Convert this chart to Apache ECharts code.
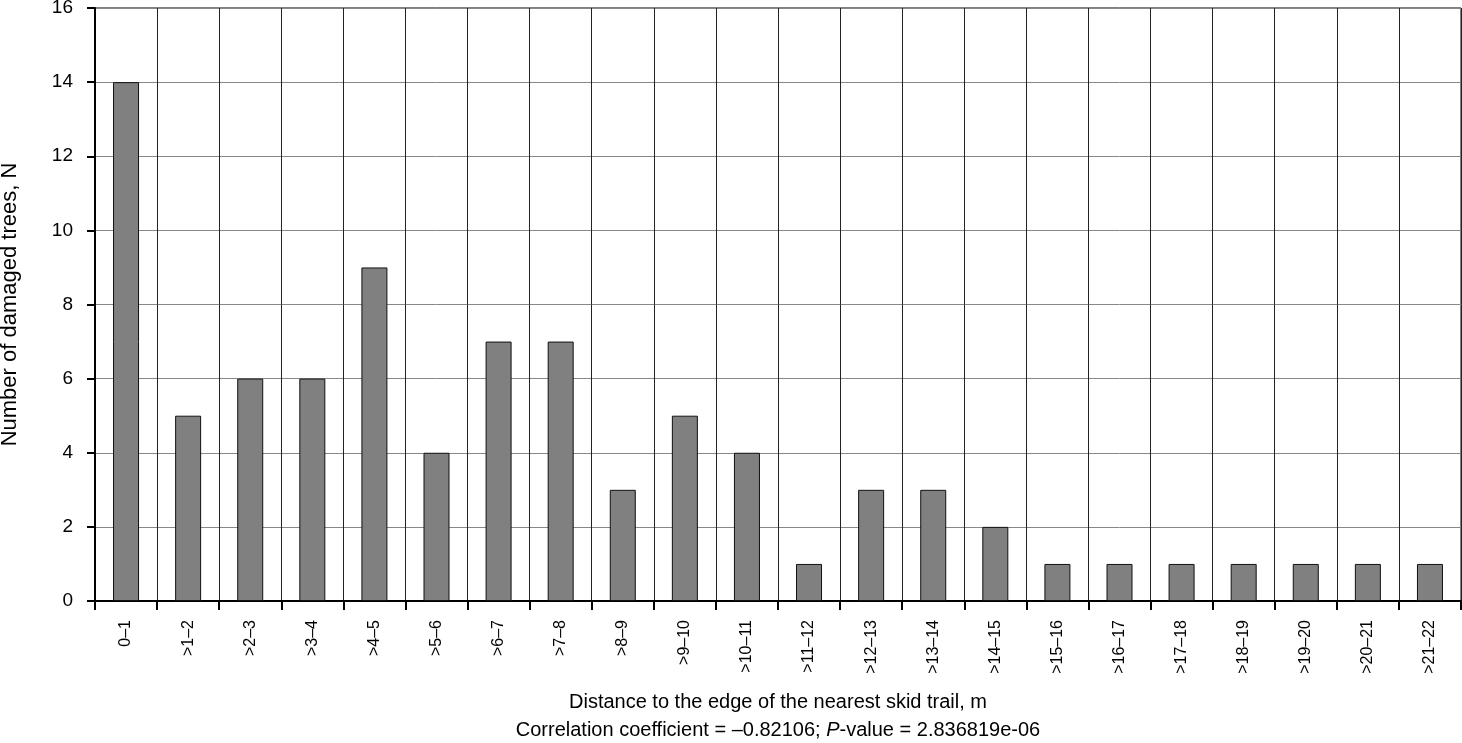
<!DOCTYPE html>
<html>
<head>
<meta charset="utf-8">
<script src="https://cdn.jsdelivr.net/npm/echarts@6/dist/echarts.min.js"></script>
<style>
html,body{margin:0;padding:0;background:#fff;}
#chart{width:1462px;height:743px;}
</style>
</head>
<body>
<div id="chart"></div>
<script>
const categories = ['0–1','>1–2','>2–3','>3–4','>4–5','>5–6','>6–7','>7–8','>8–9','>9–10','>10–11','>11–12','>12–13','>13–14','>14–15','>15–16','>16–17','>17–18','>18–19','>19–20','>20–21','>21–22'];
const damagedTrees = [14,5,6,6,9,4,7,7,3,5,4,1,3,3,2,1,1,1,1,1,1,1];
const yTicks = {min:0, max:16, interval:2};
const xTitle = 'Distance to the edge of the nearest skid trail, m';
const statLinePre = 'Correlation coefficient = –0.82106; ';
const statLineP = 'P';
const statLinePost = '-value = 2.836819e-06';

const FONT = '"Liberation Sans", Arial, sans-serif';
const chart = echarts.init(document.getElementById('chart'), null, {renderer:'canvas'});
chart.setOption({
  animation:false,
  backgroundColor:'#fff',
  textStyle:{fontFamily:FONT},
  grid:{left:95, right:1, top:8, bottom:142, show:true, borderColor:'#000', borderWidth:1, containLabel:false, outerBoundsMode:'none'},
  xAxis:{
    type:'category',
    data:categories,
    boundaryGap:true,
    axisLine:{show:true, lineStyle:{color:'#000', width:2}},
    axisTick:{show:true, inside:false, length:9, alignWithLabel:false, lineStyle:{color:'#000', width:2}},
    splitLine:{show:true, lineStyle:{color:'#222', width:1}},
    axisLabel:{rotate:90, fontSize:16, color:'#000', margin:19, fontFamily:FONT, interval:0},
    name:'{a|'+xTitle+'}\n{a|'+statLinePre+'}{i|'+statLineP+'}{a|'+statLinePost+'}',
    nameLocation:'middle',
    nameGap:87,
    nameTextStyle:{
      fontFamily:FONT, color:'#000', fontSize:20, lineHeight:28,
      rich:{
        a:{fontFamily:FONT, fontSize:20, color:'#000', lineHeight:28},
        i:{fontFamily:FONT, fontSize:20, color:'#000', fontStyle:'italic', lineHeight:28}
      }
    }
  },
  yAxis:{
    type:'value',
    min:yTicks.min, max:yTicks.max, interval:yTicks.interval,
    axisLine:{show:true, lineStyle:{color:'#000', width:2}},
    axisTick:{show:true, inside:false, length:8, lineStyle:{color:'#000', width:2}},
    splitLine:{show:true, lineStyle:{color:'#888', width:1}},
    axisLabel:{fontSize:19, color:'#000', margin:22, fontFamily:FONT},
    name:'Number of damaged trees, N',
    nameLocation:'middle',
    nameGap:74,
    nameRotate:90,
    nameTextStyle:{fontFamily:FONT, color:'#000', fontSize:22}
  },
  series:[{
    type:'bar',
    data:damagedTrees,
    barWidth:26,
    itemStyle:{color:'#808080', borderColor:'#111', borderWidth:1}
  }]
});
</script>
</body>
</html>
